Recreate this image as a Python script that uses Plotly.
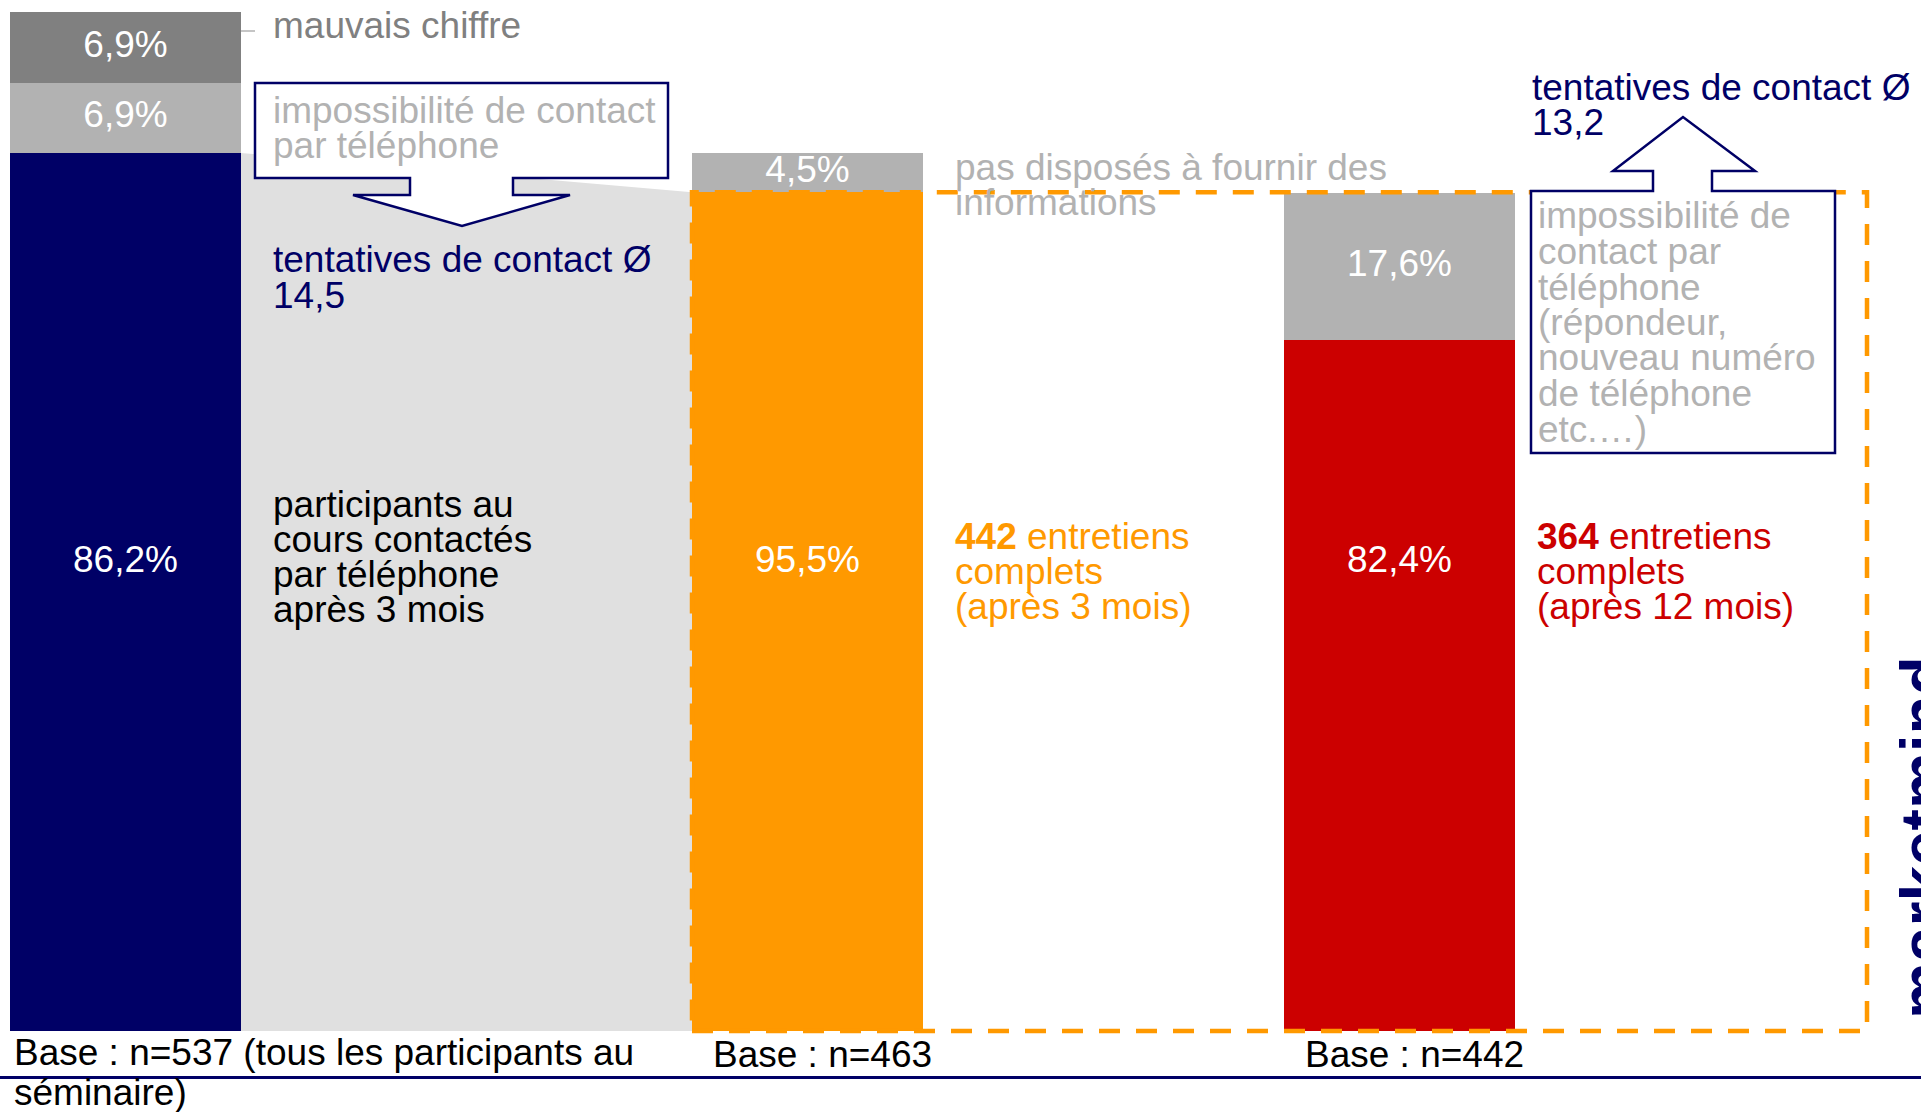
import plotly.graph_objects as go

# ---------------- data ----------------
BASE_N = [537, 463, 442]                 # bases of the three bars
PCT_RETAINED = [86.2, 95.5, 82.4]        # contactés / entretiens complets
PCT_LOST = [6.9, 4.5, 17.6]              # impossibilité de contact / pas disposés
PCT_WRONG_NUMBER = [6.9, 0.0, 0.0]       # mauvais chiffre
CONTACT_ATTEMPTS = [14.5, 13.2]          # tentatives de contact Ø
COMPLETE_INTERVIEWS = [442, 364]         # entretiens complets
BASE_NOTE = ["(tous les participants au", "séminaire)"]

# ---------------- styles / layout constants ----------------
W, H = 1921, 1112
FONT = "Liberation Sans, Arial, sans-serif"
FS = 37
NAVY = "#000066"
ORANGE = "#ff9900"
RED = "#cc0000"
LIGHT = "#b2b2b2"
DARK = "#808080"
AREA = "#e0e0e0"
RETAINED_COLORS = [NAVY, ORANGE, RED]
BAR_X = [125.5, 807.5, 1399.5]
BAR_W = 231
ZERO_PX = 1031.0
PX_PER_UNIT = 1.897


def fr(v):
    return f"{v:.1f}".replace(".", ",")


retained = [n * p / 100 for n, p in zip(BASE_N, PCT_RETAINED)]
lost = [n * p / 100 for n, p in zip(BASE_N, PCT_LOST)]
wrong = [n * p / 100 for n, p in zip(BASE_N, PCT_WRONG_NUMBER)]

fig = go.Figure()

# stacked bars
fig.add_trace(go.Bar(x=BAR_X, y=retained, width=BAR_W,
                     marker=dict(color=RETAINED_COLORS, line=dict(width=0)),
                     hoverinfo="skip", showlegend=False))
fig.add_trace(go.Bar(x=BAR_X, y=lost, width=BAR_W,
                     marker=dict(color=LIGHT, line=dict(width=0)),
                     hoverinfo="skip", showlegend=False))
fig.add_trace(go.Bar(x=BAR_X, y=wrong, width=BAR_W,
                     marker=dict(color=DARK, line=dict(width=0)),
                     hoverinfo="skip", showlegend=False))

# segment labels
lab_font = dict(family=FONT, size=FS, color="white")
fig.add_trace(go.Scatter(
    x=BAR_X, y=[r + l / 2 for r, l in zip(retained, lost)], mode="text",
    text=[fr(p) + "%" for p in PCT_LOST], textfont=lab_font,
    textposition="middle center", hoverinfo="skip", showlegend=False))
wx = [x for x, w in zip(BAR_X, wrong) if w > 0]
wy = [r + l + w / 2 for r, l, w in zip(retained, lost, wrong) if w > 0]
wt = [fr(p) + "%" for p, w in zip(PCT_WRONG_NUMBER, wrong) if w > 0]
fig.add_trace(go.Scatter(x=wx, y=wy, mode="text", text=wt, textfont=lab_font,
                         textposition="middle center", hoverinfo="skip",
                         showlegend=False))
fig.add_trace(go.Scatter(
    x=BAR_X, y=[563] * len(BAR_X), yaxis="y2", mode="text",
    text=[fr(p) + "%" for p in PCT_RETAINED], textfont=lab_font,
    textposition="middle center", hoverinfo="skip", showlegend=False))

shapes = []
# grey flow area between bar 1 and bar 2
x_r1 = BAR_X[0] + BAR_W / 2
x_l2 = BAR_X[1] - BAR_W / 2
shapes.append(dict(type="path", xref="x", yref="y", layer="below",
                   path=f"M {x_r1},0 L {x_r1},{retained[0]} L {x_l2},{retained[1]} L {x_l2},0 Z",
                   fillcolor=AREA, line=dict(width=0)))
# leader line for "mauvais chiffre"
shapes.append(dict(type="line", xref="x", yref="y2", x0=x_r1, x1=255, y0=31, y1=31,
                   line=dict(color=LIGHT, width=1.5)))
# orange dashed frame
shapes.append(dict(type="rect", xref="x", yref="y", x0=x_l2, x1=1867, y0=0, y1=retained[1],
                   line=dict(color=ORANGE, width=4.5, dash="21px,16px"),
                   fillcolor="rgba(0,0,0,0)"))
# left callout (arrow down)
shapes.append(dict(type="path", xref="x", yref="y2",
                   path="M 255,83 L 668,83 L 668,178 L 513,178 L 513,195 L 570,195 "
                        "L 462,226 L 353,195 L 410,195 L 410,178 L 255,178 Z",
                   fillcolor="white", line=dict(color=NAVY, width=2.5)))
# right callout (arrow up)
shapes.append(dict(type="path", xref="x", yref="y2",
                   path="M 1531,191 L 1653,191 L 1653,171 L 1613,171 L 1683,117 "
                        "L 1755,171 L 1712,171 L 1712,191 L 1835,191 L 1835,453 L 1531,453 Z",
                   fillcolor="white", line=dict(color=NAVY, width=2.5)))
# bottom rule
shapes.append(dict(type="line", xref="x", yref="y2", x0=0, x1=W, y0=1077.5, y1=1077.5,
                   line=dict(color=NAVY, width=3)))

annotations = []


def block(lines, x, ys, color, size=FS):
    for t, y in zip(lines, ys):
        annotations.append(dict(text=t, x=x - 2, y=y, xref="x", yref="y2",
                                xanchor="left", yanchor="middle", showarrow=False,
                                font=dict(family=FONT, size=size, color=color)))


block(["mauvais chiffre"], 273, [25], DARK)
block(["impossibilité de contact", "par téléphone"], 273, [110.5, 145], LIGHT)
block(["tentatives de contact Ø", fr(CONTACT_ATTEMPTS[0])], 273, [259, 295], NAVY)
block(["participants au", "cours contactés", "par téléphone", "après 3 mois"],
      273, [504, 539, 574, 609], "black")
block(["pas disposés à fournir des", "informations"], 955, [167, 202], LIGHT)
block([f"<b>{COMPLETE_INTERVIEWS[0]}</b> entretiens", "complets", "(après 3 mois)"],
      955, [536, 571, 606], ORANGE)
block([f"<b>{COMPLETE_INTERVIEWS[1]}</b> entretiens", "complets", "(après 12 mois)"],
      1537, [536, 571, 606], RED)
block(["tentatives de contact Ø", fr(CONTACT_ATTEMPTS[1])], 1532, [87, 122], NAVY)
block(["impossibilité de", "contact par", "téléphone", "(répondeur,",
       "nouveau numéro", "de téléphone", "etc.…)"],
      1538, [215, 251, 287, 322, 357, 393, 429], LIGHT)
block([f"Base : n={BASE_N[0]} {BASE_NOTE[0]}", BASE_NOTE[1]], 14, [1052, 1092], "black")
block([f"Base : n={BASE_N[1]}"], 713, [1054], "black")
block([f"Base : n={BASE_N[2]}"], 1305, [1054], "black")

# brand mark, partly running off the right edge as in the original slide
annotations.append(dict(text="<b>marketmind</b>", x=1910, y=838, xref="x", yref="y2",
                        xshift=14, xanchor="center", yanchor="middle", textangle=-90,
                        showarrow=False, font=dict(family=FONT, size=64, color=NAVY)))

fig.update_layout(
    width=W, height=H, margin=dict(l=0, r=0, t=0, b=0, pad=0),
    paper_bgcolor="white", plot_bgcolor="white", barmode="stack",
    showlegend=False, font=dict(family=FONT),
    xaxis=dict(range=[0, W], visible=False, fixedrange=True),
    yaxis=dict(range=[-(H - ZERO_PX) / PX_PER_UNIT, ZERO_PX / PX_PER_UNIT],
               visible=False, fixedrange=True),
    yaxis2=dict(range=[H, 0], overlaying="y", anchor="x", visible=False,
                fixedrange=True),
    shapes=shapes, annotations=annotations,
)

fig.write_html("out.html", config={"displayModeBar": False},
               post_script="document.body.style.margin='0';document.body.style.overflow='hidden';")
